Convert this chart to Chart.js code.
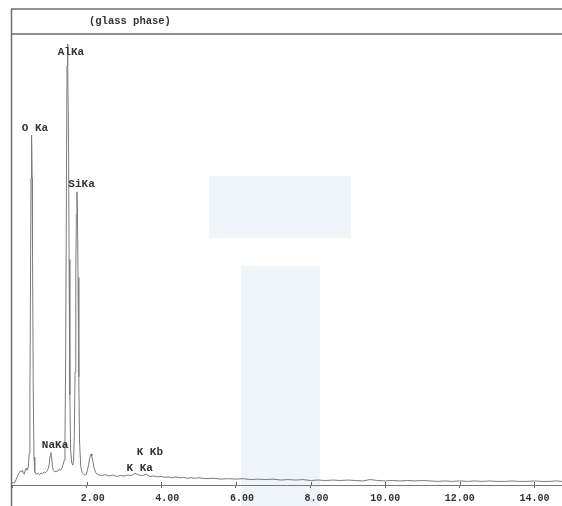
<!DOCTYPE html>
<html>
<head>
<meta charset="utf-8">
<script src="https://cdn.jsdelivr.net/npm/chart.js@4.4.1/dist/chart.umd.min.js"></script>
<style>
  html, body { margin: 0; padding: 0; background: #fff; }
  canvas { display: block; }
</style>
</head>
<body>
<canvas id="chart" width="562" height="506"></canvas>
<script>
// EDS spectrum, energy in keV, counts in arbitrary units
const energy = [
  0.00, 0.04, 0.08, 0.11, 0.14, 0.17, 0.20, 0.23, 0.26, 0.28, 0.30, 0.33, 0.36, 0.38, 0.40, 0.42, 0.44,
  0.46, 0.48, 0.50, 0.51, 0.525, 0.54, 0.55, 0.57, 0.59, 0.61, 0.63,
  0.66, 0.70, 0.74, 0.78, 0.82, 0.86, 0.90, 0.94, 0.97,
  1.00, 1.02, 1.04, 1.06, 1.08, 1.11,
  1.14, 1.18, 1.22, 1.26, 1.30, 1.34, 1.37,
  1.40, 1.42, 1.44, 1.46, 1.475, 1.486, 1.50, 1.515, 1.53, 1.55, 1.57, 1.60, 1.63,
  1.65, 1.67, 1.69, 1.71, 1.725, 1.74, 1.755, 1.77, 1.79, 1.81, 1.84, 1.88, 1.92, 1.96, 1.99,
  2.02, 2.05, 2.08, 2.10, 2.12, 2.14, 2.17, 2.20, 2.24, 2.28, 2.33,
  2.40, 2.50, 2.60, 2.70, 2.80, 2.90, 3.00, 3.10, 3.20, 3.30, 3.40, 3.50, 3.60, 3.70, 3.80, 3.90,
  4.00, 4.10, 4.20, 4.30, 4.40, 4.50, 4.60, 4.70, 4.80, 4.90, 5.00,
  5.20, 5.40, 5.60, 5.80, 6.00, 6.20, 6.40, 6.60, 6.80, 7.00, 7.20, 7.40, 7.60, 7.80,
  8.00, 8.20, 8.40, 8.60, 8.80, 9.00, 9.20, 9.40, 9.60, 9.80,
  10.00, 10.20, 10.40, 10.60, 10.80, 11.00, 11.20, 11.40, 11.60, 11.80,
  12.00, 12.20, 12.40, 12.60, 12.80, 13.00, 13.20, 13.40, 13.60, 13.80,
  14.00, 14.20, 14.40, 14.60, 14.74
];
const counts = [
  5, 5, 6, 12, 18, 24, 28, 31, 29, 33, 27, 24, 34, 37, 33, 36, 42,
  70, 200, 520, 680, 776, 680, 520, 200, 62, 30, 25,
  24, 26, 23, 27, 25, 29, 27, 31, 36,
  48, 64, 72, 63, 44, 32,
  29, 31, 30, 34, 33, 38, 45,
  55, 100, 300, 700, 930, 978, 930, 760, 500, 200, 80, 50, 44,
  55, 110, 250, 470, 600, 650, 600, 460, 240, 100, 42, 27, 24, 22, 23,
  32, 44, 58, 66, 69, 64, 52, 38, 28, 24, 22,
  21, 23, 20, 22, 19, 21, 20, 22, 21, 26, 22, 21, 24, 19, 20, 18,
  19, 17, 18, 16, 18, 16, 17, 15, 16, 15, 16,
  14, 15, 13, 14, 13, 14, 12, 13, 12, 13, 11, 12, 11, 12,
  10, 11, 10, 11, 10, 11, 10, 9, 12, 10,
  9, 10, 9, 10, 9, 10, 9, 8, 9, 8,
  9, 8, 9, 8, 9, 8, 8, 9, 8, 8,
  9, 8, 8, 9, 8
];

// peak labels: text, left edge (keV), height (counts)
const peakNames = ['O Ka', 'AlKa', 'SiKa', 'NaKa', 'K Kb', 'K Ka'];
const peakLabelE = [0.26, 1.225, 1.51, 0.80, 3.34, 3.07];
const peakLabelC = [791, 959, 667, 89, 73, 38];

const sampleName = '(glass phase)';
const xTicks = [2, 4, 6, 8, 10, 12, 14];

const monoFont = '"Liberation Mono", "DejaVu Sans Mono", monospace';
const textColor = '#333';

const framePlugin = {
  id: 'frame',
  beforeDraw(chart) {
    const { ctx } = chart;
    ctx.save();
    // faint watermark left on the scan
    ctx.fillStyle = '#eff4f8';
    ctx.fillRect(209, 176, 142, 62);
    ctx.fillRect(241, 266, 79, 240);
    ctx.restore();
  },
  afterDraw(chart) {
    const { ctx, chartArea } = chart;
    const xs = chart.scales.x;
    ctx.save();
    ctx.strokeStyle = '#6e6e6e';
    ctx.lineWidth = 1.5;
    ctx.beginPath();
    ctx.moveTo(11, 9); ctx.lineTo(562, 9);
    ctx.moveTo(11, chartArea.top); ctx.lineTo(562, chartArea.top);
    ctx.moveTo(11.5, 9); ctx.lineTo(11.5, 506);
    ctx.stroke();

    // upper half of the axis ticks
    ctx.lineWidth = 1;
    ctx.strokeStyle = '#666';
    ctx.beginPath();
    xTicks.forEach(v => {
      const px = Math.round(xs.getPixelForValue(v)) + 0.5;
      ctx.moveTo(px, chartArea.bottom - 3);
      ctx.lineTo(px, chartArea.bottom);
    });
    ctx.stroke();

    ctx.fillStyle = textColor;
    ctx.textBaseline = 'middle';
    ctx.textAlign = 'left';
    ctx.font = 'bold 10.5px ' + monoFont;
    ctx.fillText(sampleName, 89, 21);
    ctx.restore();
  },
  afterDatasetsDraw(chart) {
    const { ctx } = chart;
    const xs = chart.scales.x, ys = chart.scales.y;
    ctx.save();
    ctx.fillStyle = textColor;
    ctx.font = 'bold 11px ' + monoFont;
    ctx.textBaseline = 'middle';
    ctx.textAlign = 'left';
    peakNames.forEach((name, i) => {
      ctx.fillText(name, xs.getPixelForValue(peakLabelE[i]), ys.getPixelForValue(peakLabelC[i]));
    });
    ctx.restore();
  }
};

const ctx = document.getElementById('chart').getContext('2d');
new Chart(ctx, {
  type: 'line',
  data: {
    datasets: [{
      data: energy.map((e, i) => ({ x: e, y: counts[i] })),
      borderColor: '#7a7a7a',
      borderWidth: 1,
      pointRadius: 0,
      tension: 0,
      fill: false
    }]
  },
  plugins: [framePlugin],
  options: {
    responsive: false,
    animation: false,
    devicePixelRatio: 1,
    layout: { padding: { left: 12, right: 0, top: 34, bottom: 0 } },
    plugins: { legend: { display: false }, tooltip: { enabled: false } },
    scales: {
      x: {
        type: 'linear',
        min: 0,
        max: 14.74,
        ticks: {
          stepSize: 2,
          includeBounds: false,
          autoSkip: false,
          maxRotation: 0,
          padding: 4,
          color: textColor,
          font: { family: monoFont, size: 10, weight: 'bold' },
          callback: (v) => {
            if (v === 0) return '';
            return v < 10 ? '  ' + v.toFixed(2) : v.toFixed(2);
          }
        },
        grid: { drawOnChartArea: false, drawTicks: true, tickLength: 3, color: '#666' },
        border: { display: true, color: '#777', width: 1 },
        afterFit: (s) => { s.height = 21; s.paddingLeft = 0; s.paddingRight = 0; }
      },
      y: { display: false, min: 0, max: 1000 }
    }
  }
});
</script>
</body>
</html>
